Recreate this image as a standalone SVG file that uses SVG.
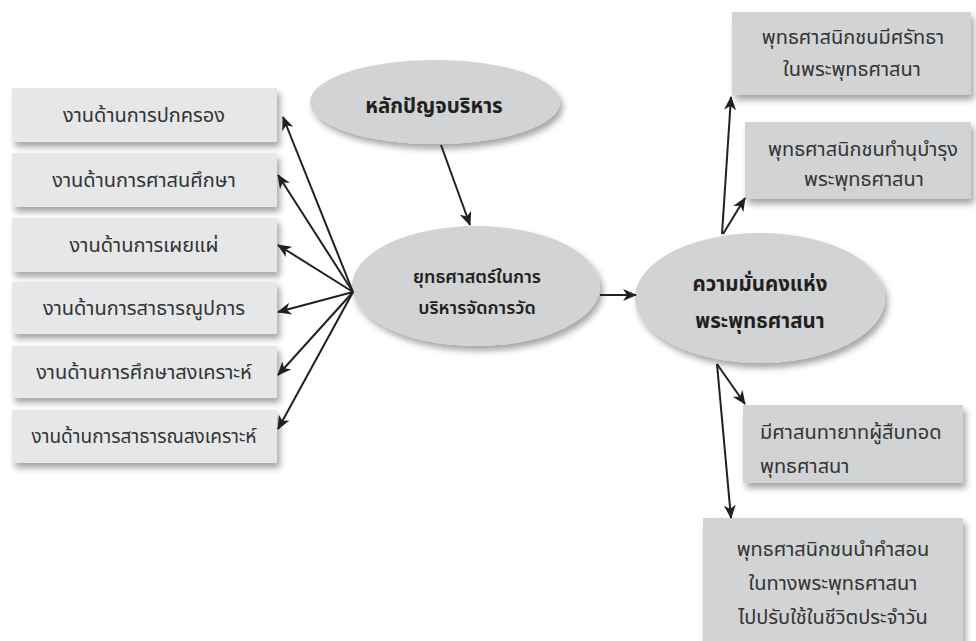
<svg xmlns="http://www.w3.org/2000/svg" width="976" height="641" viewBox="0 0 976 641">
<defs>
<filter id="sh" x="-10%" y="-20%" width="130%" height="160%">
<feDropShadow dx="3" dy="5" stdDeviation="3" flood-color="#000" flood-opacity="0.35"/>
</filter>
<marker id="ah" viewBox="0 0 14 12" refX="13" refY="6" markerWidth="14" markerHeight="12" markerUnits="userSpaceOnUse" orient="auto">
<path d="M0,0 L14,6 L0,12 L4,6 z" fill="#231f20"/>
</marker>
<style>
.lb{fill:#e6e7e8;filter:url(#sh)}
.rb{fill:#d1d3d4;filter:url(#sh)}
.el{fill:#d1d3d4;filter:url(#sh)}
text{font-family:"Noto Sans Thai","Noto Sans","DejaVu Sans",sans-serif;fill:#231f20}
.lt{font-size:20px;text-anchor:middle;fill:#333}
.rt{font-size:20px;text-anchor:middle;fill:#333}
.st{font-size:20px;text-anchor:start;fill:#333}
.bt{font-weight:bold;text-anchor:middle}
.md{font-weight:600;font-size:18px}
.cn{stroke:#231f20;stroke-width:2;fill:none;marker-end:url(#ah)}
</style>
</defs>
<rect width="976" height="641" fill="#fff"/>
<g id="box-l1"><rect class="lb" x="12" y="88" width="265" height="54"/><text class="lt" x="144" y="122">งานด้านการปกครอง</text></g>
<g id="box-l2"><rect class="lb" x="12" y="153" width="265" height="54"/><text class="lt" x="144" y="187">งานด้านการศาสนศึกษา</text></g>
<g id="box-l3"><rect class="lb" x="12" y="218" width="265" height="54"/><text class="lt" x="144" y="252">งานด้านการเผยแผ่</text></g>
<g id="box-l4"><rect class="lb" x="12" y="282" width="265" height="52"/><text class="lt" x="144" y="315">งานด้านการสาธารณูปการ</text></g>
<g id="box-l5"><rect class="lb" x="12" y="346" width="265" height="52"/><text class="lt" x="144" y="379">งานด้านการศึกษาสงเคราะห์</text></g>
<g id="box-l6"><rect class="lb" x="12" y="410" width="265" height="53"/><text class="lt" x="144" y="443" style="font-size:19px">งานด้านการสาธารณสงเคราะห์</text></g>
<g id="ell-1"><ellipse class="el" cx="435" cy="102" rx="125" ry="42"/><text class="bt" x="434" y="113" font-size="20.5">หลักปัญจบริหาร</text></g>
<g id="ell-2"><ellipse class="el" cx="476" cy="286" rx="124" ry="60"/><text class="bt md" x="477" y="283">ยุทธศาสตร์ในการ</text><text class="bt md" x="477" y="314">บริหารจัดการวัด</text></g>
<g id="ell-3"><ellipse class="el" cx="760" cy="298" rx="125" ry="65"/><text class="bt" x="760" y="291" font-size="20.5">ความมั่นคงแห่ง</text><text class="bt" x="760" y="328" font-size="20.5">พระพุทธศาสนา</text></g>
<g id="box-r1"><rect class="rb" x="732" y="12" width="239" height="83"/><text class="rt" x="853" y="44">พุทธศาสนิกชนมีศรัทธา</text><text class="rt" x="852" y="76">ในพระพุทธศาสนา</text></g>
<g id="box-r2"><rect class="rb" x="745" y="122" width="226" height="77"/><text class="rt" x="863" y="156">พุทธศาสนิกชนทำนุบำรุง</text><text class="rt" x="864" y="186">พระพุทธศาสนา</text></g>
<g id="box-r3"><rect class="rb" x="743" y="405" width="220" height="78"/><text class="st" x="760" y="439">มีศาสนทายาทผู้สืบทอด</text><text class="st" x="760" y="473">พุทธศาสนา</text></g>
<g id="box-r4"><rect class="rb" x="703" y="518" width="260" height="130"/><text class="rt" x="833" y="556">พุทธศาสนิกชนนำคำสอน</text><text class="rt" x="833" y="590">ในทางพระพุทธศาสนา</text><text class="rt" x="833" y="624">ไปปรับใช้ในชีวิตประจำวัน</text></g>
<g id="connectors">
<line class="cn" x1="441" y1="145" x2="470" y2="225"/>
<line class="cn" x1="600" y1="295" x2="636" y2="295"/>
<line class="cn" x1="353" y1="292" x2="283" y2="117"/>
<line class="cn" x1="353" y1="292" x2="278" y2="175"/>
<line class="cn" x1="353" y1="292" x2="278" y2="245"/>
<line class="cn" x1="353" y1="292" x2="278" y2="312"/>
<line class="cn" x1="353" y1="292" x2="278" y2="375"/>
<line class="cn" x1="353" y1="292" x2="278" y2="429"/>
<line class="cn" x1="722" y1="234" x2="731" y2="97"/>
<line class="cn" x1="723" y1="234" x2="745" y2="198"/>
<line class="cn" x1="717" y1="364" x2="745" y2="404"/>
<line class="cn" x1="717" y1="364" x2="731" y2="518"/>
</g>
</svg>
